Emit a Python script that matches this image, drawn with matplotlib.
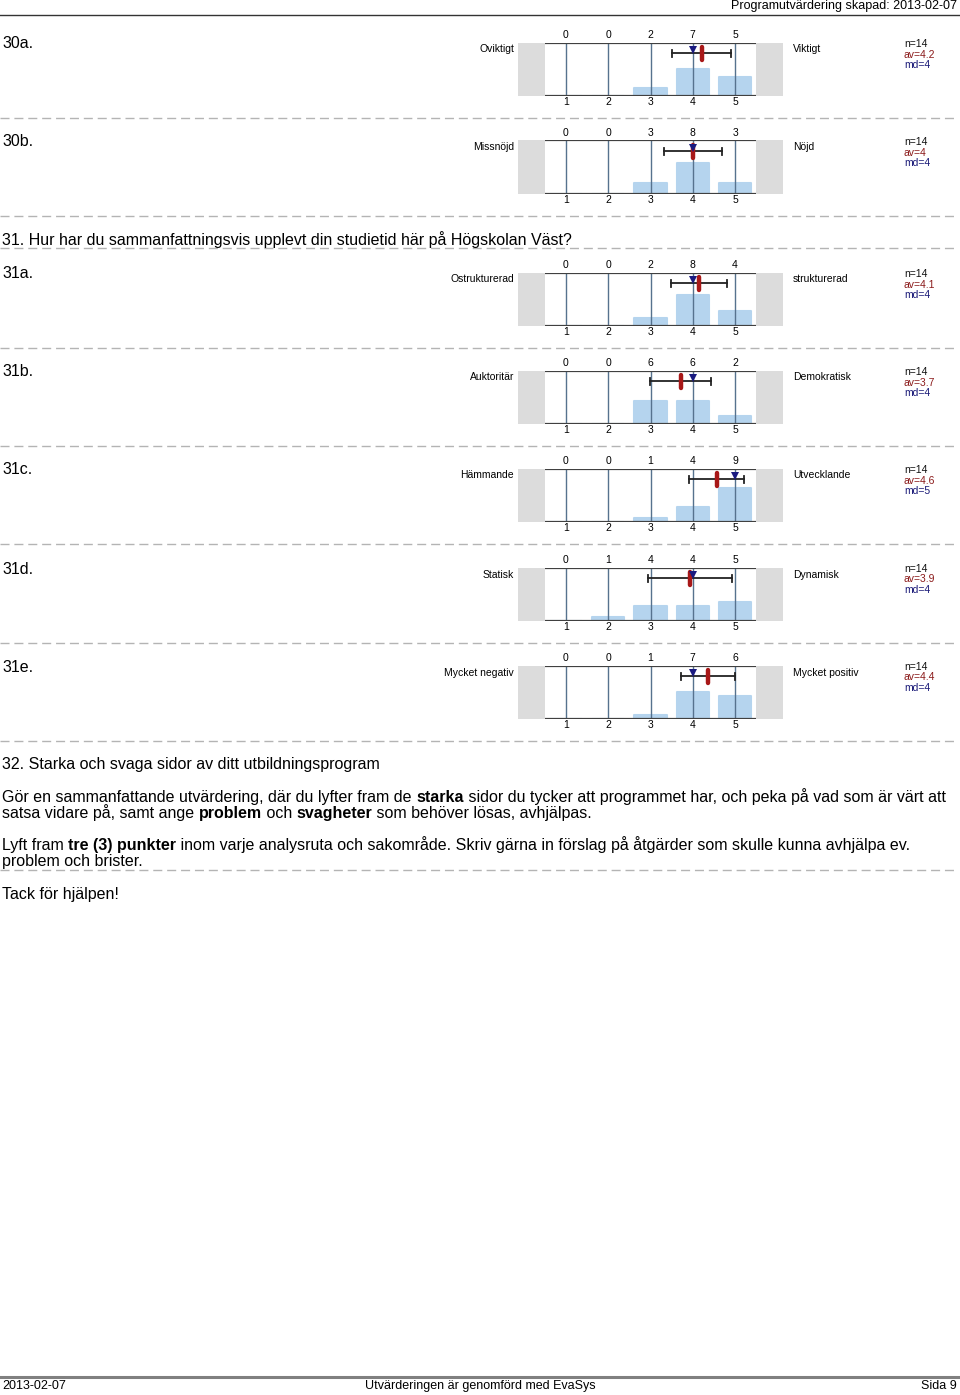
import matplotlib
matplotlib.use("Agg")
import matplotlib.pyplot as plt
from matplotlib.lines import Line2D

plt.rcParams['font.family'] = ['Liberation Sans', 'DejaVu Sans']

# ---- data ----
block_ids = ["30a.", "30b.", "31a.", "31b.", "31c.", "31d.", "31e."]
left_labels = ["Oviktigt", "Missnöjd", "Ostrukturerad", "Auktoritär", "Hämmande", "Statisk", "Mycket negativ"]
right_labels = ["Viktigt", "Nöjd", "strukturerad", "Demokratisk", "Utvecklande", "Dynamisk", "Mycket positiv"]
counts = [
    [0, 0, 2, 7, 5],
    [0, 0, 3, 8, 3],
    [0, 0, 2, 8, 4],
    [0, 0, 6, 6, 2],
    [0, 0, 1, 4, 9],
    [0, 1, 4, 4, 5],
    [0, 0, 1, 7, 6],
]
n_resp = [14, 14, 14, 14, 14, 14, 14]
means = [4.21, 4.0, 4.14, 3.71, 4.57, 3.93, 4.36]
sds = [0.70, 0.68, 0.66, 0.73, 0.65, 1.0, 0.63]
medians = [4, 4, 4, 4, 5, 4, 4]
av_text = ["4.2", "4", "4.1", "3.7", "4.6", "3.9", "4.4"]
md_text = ["4", "4", "4", "4", "5", "4", "4"]
scale = [1, 2, 3, 4, 5]

# chart top line (pixel y) for each block
block_tops = [42.5, 140.5, 272.5, 370.5, 468.5, 567.5, 665.5]

W, H = 960, 1395
BIG = 11.5
fig = plt.figure(figsize=(W / 100, H / 100), dpi=100)
bg = fig.add_axes([0, 0, 1, 1])
bg.set_xlim(0, W)
bg.set_ylim(H, 0)
bg.axis('off')

def dashed(y):
    bg.add_line(Line2D([0, 955], [y, y], color='#b4b4b4', lw=1.0, dashes=(6.5, 3.5)))

# header / footer
bg.add_line(Line2D([0, W], [15, 15], color='#333333', lw=1.0))
bg.text(957, 6, "Programutvärdering skapad: 2013-02-07", ha='right', va='center', fontsize=9)
bg.add_line(Line2D([0, W], [1377, 1377], color='#808080', lw=2.2))
bg.text(2, 1386, "2013-02-07", ha='left', va='center', fontsize=9)
bg.text(480, 1386, "Utvärderingen är genomförd med EvaSys", ha='center', va='center', fontsize=9)
bg.text(957, 1386, "Sida 9", ha='right', va='center', fontsize=9)

CH = 53.5  # chart height in px
X0, X1 = 518, 783
unit = 42.3
xlo = 1 - (566 - X0) / unit
xhi = 5 + (X1 - 735) / unit

for i, top in enumerate(block_tops):
    bg.text(2, top + 1.5, block_ids[i], ha='left', va='center', fontsize=BIG)
    bg.text(514, top + 7, left_labels[i], ha='right', va='center', fontsize=7.5)
    bg.text(793, top + 7, right_labels[i], ha='left', va='center', fontsize=7.5)
    bg.text(904, top + 1.5, "n=%d" % n_resp[i], ha='left', va='center', fontsize=7.5, color='#111111')
    bg.text(904, top + 12, "av=" + av_text[i], ha='left', va='center', fontsize=7.5, color='#8b1a1a')
    bg.text(904, top + 22.5, "md=" + md_text[i], ha='left', va='center', fontsize=7.5, color='#1a1a78')
    dashed(top + 75)

    ax = fig.add_axes([X0 / W, 1 - (top + CH) / H, (X1 - X0) / W, CH / H])
    ax.set_xlim(xlo, xhi)
    ax.set_ylim(0, 1)
    ax.axis('off')
    ax.axvspan(xlo, 0.5, color='#dcdcdc', lw=0)
    ax.axvspan(5.5, xhi, color='#dcdcdc', lw=0)
    pct = [c / n_resp[i] for c in counts[i]]
    ax.bar(scale, pct, width=0.76, color='#b5d4ee', edgecolor='#b5d4ee',
           linewidth=1.5, joinstyle='round', zorder=2)
    for s in scale:
        ax.plot([s, s], [0, 1], color='#56728e', lw=1.0, zorder=3)
    ax.plot([0.5, 5.5], [1, 1], color='#404040', lw=1.6, zorder=4, solid_capstyle='butt')
    ax.plot([0.5, 5.5], [0, 0], color='#404040', lw=1.6, zorder=4, solid_capstyle='butt')
    for s, c in zip(scale, counts[i]):
        ax.text(s, 1.14, str(c), ha='center', va='center', fontsize=7.5, clip_on=False)
        ax.text(s, -0.12, str(s), ha='center', va='center', fontsize=7.5, clip_on=False)
    ye = 0.8
    lo, hi = means[i] - sds[i], means[i] + sds[i]
    ax.plot([lo, hi], [ye, ye], color='#222222', lw=1.3, zorder=5)
    ax.plot([lo, lo], [ye - 0.065, ye + 0.065], color='#222222', lw=1.3, zorder=5)
    ax.plot([hi, hi], [ye - 0.065, ye + 0.065], color='#222222', lw=1.3, zorder=5)
    ax.plot([means[i], means[i]], [ye - 0.12, ye + 0.12], color='#a81818', lw=3.2,
            solid_capstyle='round', zorder=6)
    ax.plot([medians[i]], [ye + 0.065], marker='v', markersize=5.8, color='#1a1a80',
            markeredgewidth=0, zorder=7)

# question headings and separators
dashed(248)
bg.text(2, 240, "31. Hur har du sammanfattningsvis upplevt din studietid här på Högskolan Väst?",
        ha='left', va='center', fontsize=BIG)
bg.text(2, 765, "32. Starka och svaga sidor av ditt utbildningsprogram",
        ha='left', va='center', fontsize=BIG)

renderer = fig.canvas.get_renderer()

def rich_line(y, parts, size=BIG):
    # y is the visual centre of the line; draw on a shared baseline
    x = 2
    for txt, bold in parts:
        t = bg.text(x, y + 5, txt, ha='left', va='baseline', fontsize=size,
                    fontweight='bold' if bold else 'normal')
        x += t.get_window_extent(renderer=renderer).width

rich_line(797, [("Gör en sammanfattande utvärdering, där du lyfter fram de ", False), ("starka", True),
                (" sidor du tycker att programmet har, och peka på vad som är värt att", False)])
rich_line(813, [("satsa vidare på, samt ange ", False), ("problem", True), (" och ", False),
                ("svagheter", True), (" som behöver lösas, avhjälpas.", False)])
rich_line(845, [("Lyft fram ", False), ("tre (3) punkter", True),
                (" inom varje analysruta och sakområde. Skriv gärna in förslag på åtgärder som skulle kunna avhjälpa ev.", False)])
rich_line(861, [("problem och brister.", False)])
dashed(870)
bg.text(2, 895, "Tack för hjälpen!", ha='left', va='center', fontsize=BIG)

fig.savefig("out.png", dpi=100)
